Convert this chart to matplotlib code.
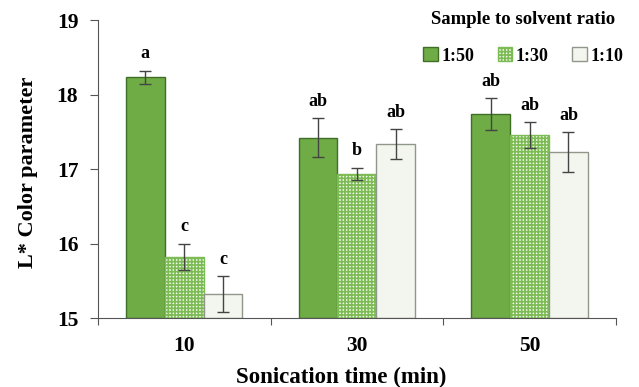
import matplotlib
matplotlib.use('Agg')
import matplotlib.pyplot as plt
import numpy as np

plt.rcParams['font.family'] = ['Liberation Serif', 'DejaVu Serif']
plt.rcParams['font.weight'] = 'bold'
plt.rcParams['hatch.linewidth'] = 1.2

times = ['10', '30', '50']
ratios = ['1:50', '1:30', '1:10']
values = {
    '1:50': [18.23, 17.42, 17.74],
    '1:30': [15.82, 16.94, 17.46],
    '1:10': [15.32, 17.34, 17.23],
}
errors = {
    '1:50': [0.09, 0.26, 0.21],
    '1:30': [0.18, 0.08, 0.17],
    '1:10': [0.24, 0.20, 0.27],
}
letters = {
    '1:50': ['a', 'ab', 'ab'],
    '1:30': ['c', 'b', 'ab'],
    '1:10': ['c', 'ab', 'ab'],
}

styles = {
    '1:50': dict(color='#6fac46', edgecolor='#3f6e25', hatch=None),
    '1:30': dict(color='#f4faef', edgecolor='#7dbb55', hatch='+++++'),
    '1:10': dict(color='#f3f6ee', edgecolor='#8f968a', hatch=None),
}

fig = plt.figure(figsize=(6.39, 3.87), dpi=100)
ax = fig.add_axes([0.153, 0.178, 0.811, 0.770])

x = np.arange(len(times))
width = 0.225
offsets = [-width, 0, width]

for r, off in zip(ratios, offsets):
    st = styles[r]
    ax.bar(x + off, np.array(values[r]) - 15, width, bottom=15,
           color=st['color'], edgecolor=st['edgecolor'], hatch=st['hatch'],
           linewidth=1.0, label=r, zorder=2)
    ax.errorbar(x + off, values[r], yerr=errors[r], fmt='none', ecolor='#444444',
                elinewidth=1.0, capsize=4, capthick=1.0, zorder=3)
    for xi, v, e, t in zip(x + off, values[r], errors[r], letters[r]):
        ax.annotate(t, (xi, v + e), xytext=(0, 6), textcoords='offset points',
                    ha='center', va='bottom', fontsize=13, fontweight='bold')

ax.set_ylim(15, 19)
ax.set_xlim(-0.5, 2.5)
ax.set_yticks([15, 16, 17, 18, 19])
ax.set_xticks([-0.5, 0.5, 1.5, 2.5])
ax.set_xticklabels([])
ax.set_xticks(x, minor=True)
ax.set_xticklabels(times, minor=True)
ax.tick_params(axis='x', which='minor', length=0, pad=13, labelsize=15.5)
ax.tick_params(axis='x', which='major', direction='out', length=5, color='#555555')
ax.tick_params(axis='y', direction='out', length=6, pad=8, labelsize=15.5, color='#555555')
for lab in ax.get_yticklabels() + ax.get_xticklabels(minor=True):
    lab.set_fontweight('bold')

ax.spines['top'].set_visible(False)
ax.spines['right'].set_visible(False)
ax.spines['left'].set_color('#555555')
ax.spines['bottom'].set_color('#555555')

ax.set_ylabel('L* Color parameter', fontsize=16, fontweight='bold')
ax.yaxis.set_label_coords(-0.115, 0.49)
ax.set_xlabel('Sonication time (min)', fontsize=16.5, fontweight='bold')
ax.xaxis.set_label_coords(0.47, -0.165)

leg = ax.legend(title='Sample to solvent ratio', ncol=3, loc='upper right',
                bbox_to_anchor=(1.045, 1.085), frameon=False, fontsize=13,
                title_fontsize=13.5, handlelength=0.8, handleheight=0.8,
                handletextpad=0.2, columnspacing=1.3)
leg.get_title().set_fontweight('bold')
leg._legend_box.sep = 14

fig.savefig('out.png', dpi=100)
